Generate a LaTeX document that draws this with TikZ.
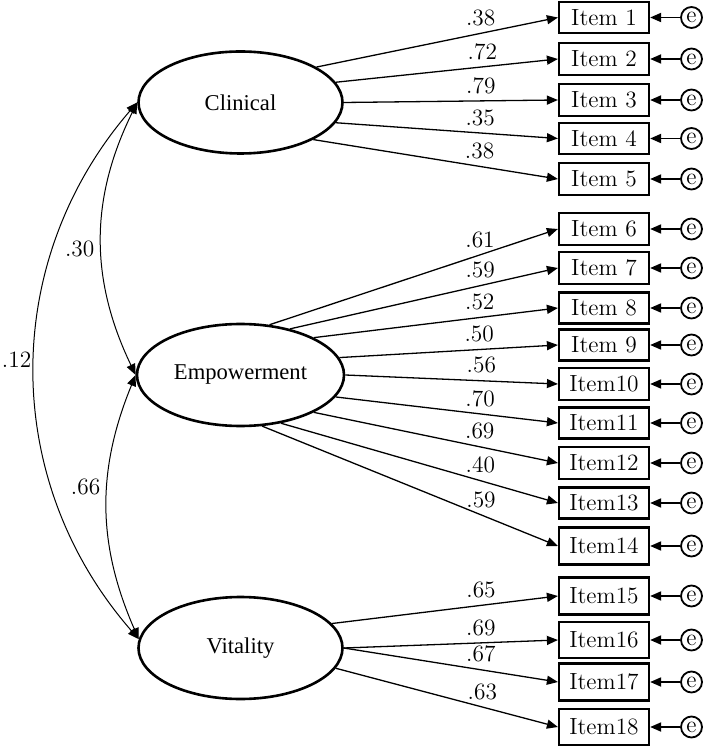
\documentclass[tikz,border=0pt]{standalone}
\usepackage{fontspec}
\newfontfamily\factorfont{Liberation Serif}
\usetikzlibrary{arrows.meta,positioning,shapes.geometric}

\begin{document}
\begin{tikzpicture}[x=0.5pt,y=0.5pt,>={Triangle[length=5.5pt,width=4.5pt]},
  font=\fontsize{11.7}{13}\selectfont,
  factor/.style={draw,ellipse,line width=1.3pt,minimum width=102pt,minimum height=51pt,
    font=\factorfont\fontsize{11.3}{13}\selectfont},
  item/.style={draw,rectangle,line width=1.1pt,minimum width=45pt,inner sep=0pt},
  err/.style={draw,circle,line width=0.9pt,minimum size=10.5pt,inner sep=0pt},
  load/.style={->,line width=0.65pt},
  cov/.style={<->,line width=0.5pt}]
  \useasboundingbox (0,0) rectangle (708,-747);

  % latent factors
  \node[factor] (Clinical) at (240.5,-102.5) {Clinical};
  \node[factor] (Empowerment) at (240.5,-375) {Empowerment};
  \node[factor] (Vitality) at (240.5,-648) {Vitality};

  % items and their error terms
  \foreach \n/\lab/\y/\h in {1/Item 1/17.5/15.5pt, 2/Item 2/59/16pt, 3/Item 3/100/16pt,
      4/Item 4/138.5/15.5pt, 5/Item 5/179/16pt, 6/Item 6/229/16pt, 7/Item 7/268/16pt,
      8/Item 8/308/15.5pt, 9/Item 9/345/15.5pt, 10/Item10/384/16pt, 11/Item11/423/15.5pt,
      12/Item12/463/16pt, 13/Item13/503/15.5pt, 14/Item14/546/18.5pt, 15/Item15/596/18.5pt,
      16/Item16/640/18pt, 17/Item17/682/18.5pt, 18/Item18/727/18pt}{
    \node[item,minimum height=\h] (I\n) at (604,-\y) {\lab};
    \node[err] (e\n) [right=15pt of I\n] {e};
    \draw[->,line width=0.9pt] (e\n) -- (I\n);
  }

  % loadings
  \foreach \f/\a/\n/\p/\v in {Clinical/25/1/0.68/.38, Clinical/12/2/0.66/.72,
      Clinical/0/3/0.64/.79, Clinical/-12/4/0.65/.35, Clinical/-27/5/0.68/.38,
      Empowerment/60/6/0.73/.61, Empowerment/43/7/0.71/.59, Empowerment/27/8/0.68/.52,
      Empowerment/10/9/0.64/.50, Empowerment/0/10/0.64/.56, Empowerment/-13/11/0.65/.70,
      Empowerment/-27/12/0.68/.69, Empowerment/-50/13/0.72/.40, Empowerment/-67/14/0.74/.59,
      Vitality/15/15/0.66/.65, Vitality/0/16/0.64/.69, Vitality/0/17/0.64/.67,
      Vitality/-12/18/0.66/.63}
    \draw[load] (\f.\a) -- node[pos=\p,above] {\v} (I\n.west);

  % correlations
  \draw[cov] (Clinical.west) to[bend right=26] node[pos=0.54,left] {.30} (Empowerment.west);
  \draw[cov] (Empowerment.west) to[bend right=23] node[pos=0.42,left] {.66} (Vitality.175);
  \draw[cov] (Clinical.west) to[bend right=41] node[pos=0.48,left,inner sep=1.5pt] {.12} (Vitality.175);
\end{tikzpicture}
\end{document}
